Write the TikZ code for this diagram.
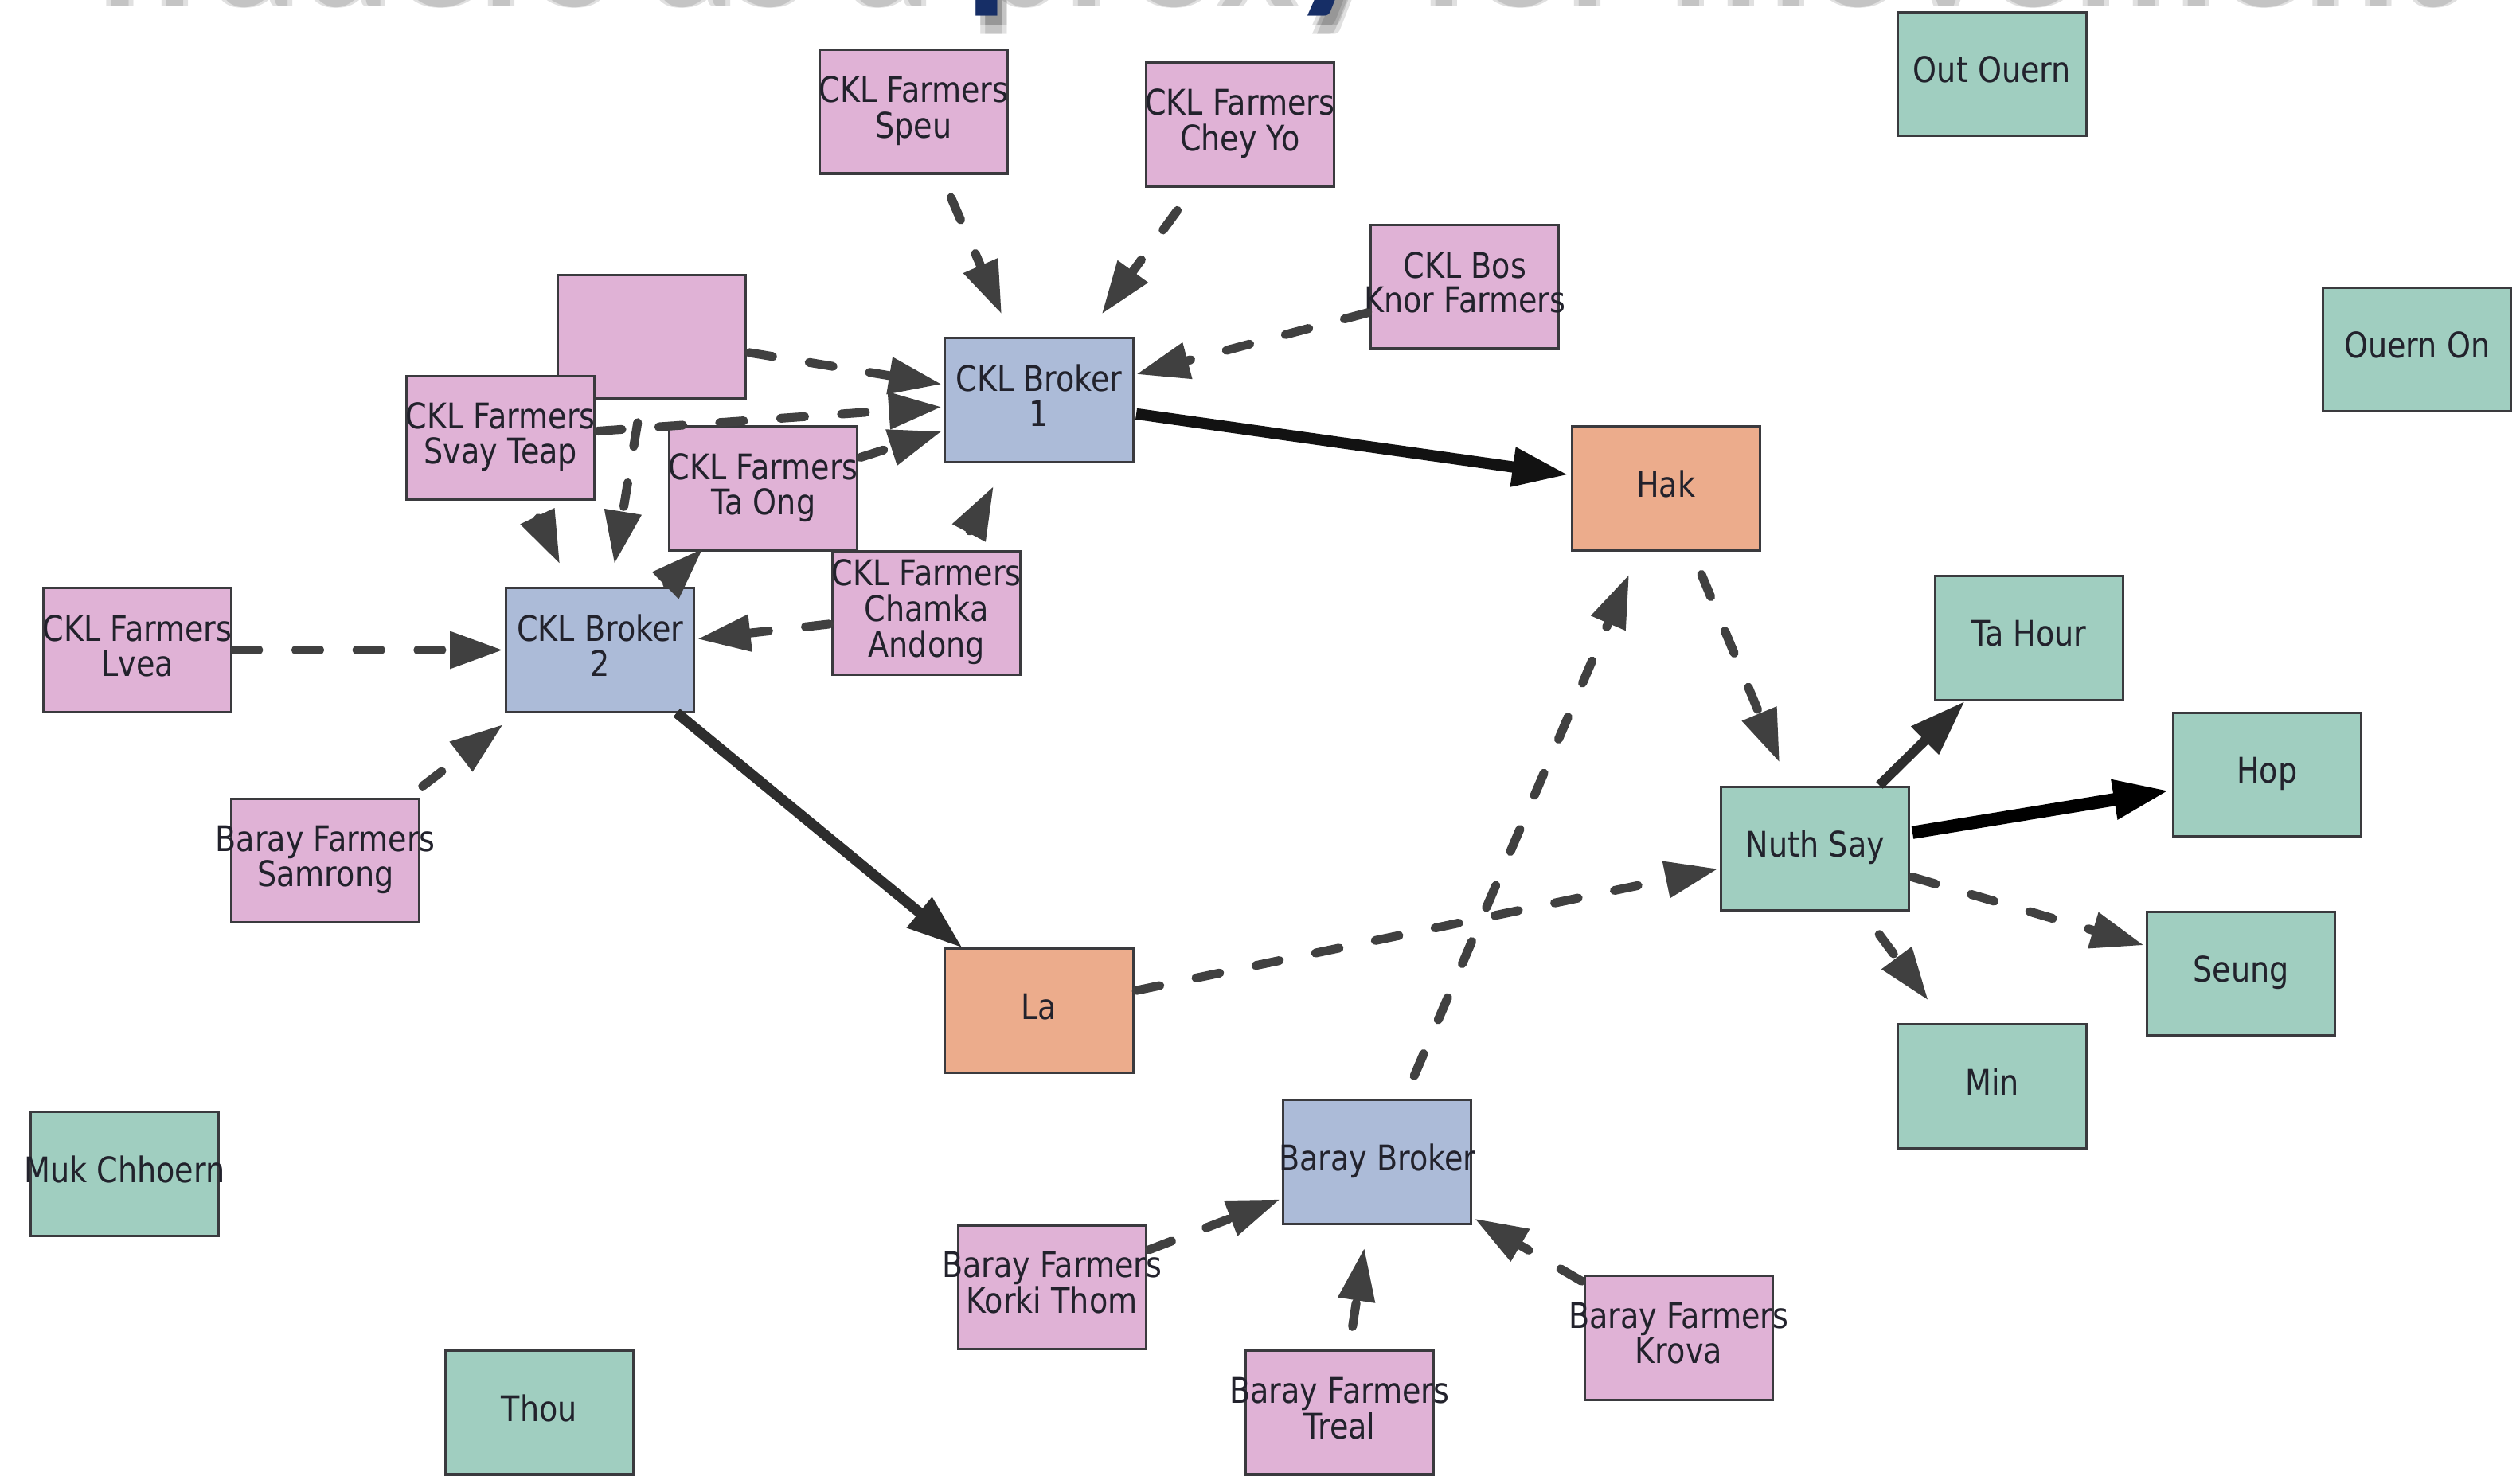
\documentclass[tikz,border=0pt]{standalone}
\usepackage{fontspec}
\newfontfamily\nodefont{DejaVu Sans}[FakeStretch=0.86]
\newfontfamily\titlefont{Carlito}
\usetikzlibrary{arrows.meta,calc}
\definecolor{farmerpink}{RGB}{224,178,214}
\definecolor{brokerblue}{RGB}{172,187,216}
\definecolor{traderorange}{RGB}{236,172,140}
\definecolor{otherteal}{RGB}{160,206,192}
\definecolor{boxborder}{RGB}{58,58,62}
\definecolor{nodetext}{RGB}{34,34,44}
\definecolor{edgegray}{RGB}{64,64,64}
\definecolor{edgedark}{RGB}{45,45,45}
\definecolor{edgeblack}{RGB}{18,18,18}
\definecolor{titlenavy}{RGB}{22,46,102}
\newcommand\boxtxt[1]{\makebox[0pt]{\begin{tabular}{@{}c@{}}#1\end{tabular}}}
\tikzset{
  nd/.style={rectangle, draw=boxborder, line width=0.03cm,
    minimum width=2.34cm, minimum height=1.54cm, inner sep=0pt,
    outer xsep=0.04cm, outer ysep=0.3cm, text=nodetext,
    font=\nodefont\fontsize{12.5}{10.8}\selectfont},
  farmer/.style={nd, fill=farmerpink},
  broker/.style={nd, fill=brokerblue},
  trader/.style={nd, fill=traderorange},
  other/.style={nd, fill=otherteal},
  dedge/.style={draw=edgegray, line width=0.11cm, line cap=round,
    dash pattern=on 0.3cm off 0.46cm,
    -{Triangle[length=0.66cm,width=0.44cm]}},
  sedge/.style={draw=edgedark, line width=0.13cm,
    -{Triangle[length=0.7cm,width=0.46cm]}},
  titletext/.style={anchor=base west, inner sep=0pt, text=titlenavy,
    font=\titlefont\bfseries\fontsize{62}{62}\selectfont},
  titleshadow/.style={titletext, text=black, text opacity=0.12}
}
\begin{document}
\begin{tikzpicture}[x=0.02cm,y=-0.02cm]
\fill[white] (0,0) rectangle (1568,918.5);
\useasboundingbox (0,0) rectangle (1568,918.5);
\begin{scope}
  \clip (0,0) rectangle (1568,918.5);
  \foreach \dx in {3,6} {
    \foreach \dy in {6,11} {
      \node[titleshadow] (sh-\dx-\dy) at (43+\dx,-7+\dy) {Traders as a proxy for movement};
    }
  }
  \node[titletext] (title) at (43,-7) {Traders as a proxy for movement};
\end{scope}

% nodes
\node[farmer] (speu)    at (568.5,69.5)  {\boxtxt{CKL Farmers\\Speu}};
\node[farmer] (chey)    at (771.5,77.5)  {\boxtxt{CKL Farmers\\Chey Yo}};
\node[other]  (outouern) at (1239.5,46)  {\boxtxt{Out Ouern}};
\node[farmer] (bos)     at (911.5,178.5) {\boxtxt{CKL Bos\\Knor Farmers}};
\node[other]  (ouernon) at (1504,217.5)  {\boxtxt{Ouern On}};
\node[farmer] (blank)   at (405.5,209.5) {};
\node[broker] (b1)      at (646.5,249)   {\boxtxt{CKL Broker\\1}};
\node[farmer] (svay)    at (311.5,272.5) {\boxtxt{CKL Farmers\\Svay Teap}};
\node[farmer] (taong)   at (475,304)     {\boxtxt{CKL Farmers\\Ta Ong}};
\node[trader] (hak)     at (1036.5,304)  {\boxtxt{Hak}};
\node[farmer] (chamka)  at (576.5,381.5) {\boxtxt{CKL Farmers\\Chamka\\Andong}};
\node[farmer] (lvea)    at (85.5,404.5)  {\boxtxt{CKL Farmers\\Lvea}};
\node[broker] (b2)      at (373.5,404.5) {\boxtxt{CKL Broker\\2}};
\node[other]  (tahour)  at (1262.5,397)  {\boxtxt{Ta Hour}};
\node[other]  (hop)     at (1410.5,482)  {\boxtxt{Hop}};
\node[other]  (nuth)    at (1129.5,528)  {\boxtxt{Nuth Say}};
\node[farmer] (samrong) at (202.5,535.5) {\boxtxt{Baray Farmers\\Samrong}};
\node[other]  (seung)   at (1394.5,606)  {\boxtxt{Seung}};
\node[trader] (la)      at (646.5,629)   {\boxtxt{La}};
\node[other]  (min)     at (1239.5,676)  {\boxtxt{Min}};
\node[other]  (muk)     at (77.5,730.5)  {\boxtxt{Muk Chhoern}};
\node[broker] (baray)   at (857,723)     {\boxtxt{Baray Broker}};
\node[farmer] (korki)   at (654.5,801)   {\boxtxt{Baray Farmers\\Korki Thom}};
\node[farmer] (krova)   at (1044.5,832.5) {\boxtxt{Baray Farmers\\Krova}};
\node[other]  (thou)    at (335.5,879)   {\boxtxt{Thou}};
\node[farmer] (treal)   at (833.5,879)   {\boxtxt{Baray Farmers\\Treal}};

% connectors
\draw[dedge] (speu) -- (b1);
\draw[dedge] (chey) -- (b1);
\draw[dedge] (bos) -- (b1);
\draw[dedge] (blank) -- (b1);
\draw[dedge] (svay) -- (b1);
\draw[dedge] (taong) -- (b1);
\draw[dedge] (chamka) -- (b1);
\draw[dedge] (svay) -- (b2);
\draw[dedge] (blank) -- (b2);
\draw[dedge] ($(b2)!0.41!(taong)$) -- ($(b2)!0.63!(taong)$);
\draw[dedge] (chamka) -- (b2);
\draw[dedge] (lvea) -- (b2);
\draw[dedge] (samrong) -- (b2);
\draw[sedge, draw=edgeblack, line width=0.14cm] (b1) -- (hak);
\draw[sedge] ($(b2)!0.174!(la)$) -- ($(b2)!0.826!(la)$);
\draw[dedge] (hak) -- (nuth);
\draw[dedge] (baray) -- (hak);
\draw[dedge] (la) -- (nuth);
\draw[sedge, line width=0.12cm] ($(nuth)!0.3!(tahour)$) -- ($(nuth)!0.7!(tahour)$);
\draw[sedge, draw=black, line width=0.16cm] (nuth) -- (hop);
\draw[dedge] (nuth) -- (seung);
\draw[dedge] (nuth) -- (min);
\draw[dedge] (korki) -- (baray);
\draw[dedge] (treal) -- (baray);
\draw[dedge] (krova) -- (baray);
\end{tikzpicture}
\end{document}
